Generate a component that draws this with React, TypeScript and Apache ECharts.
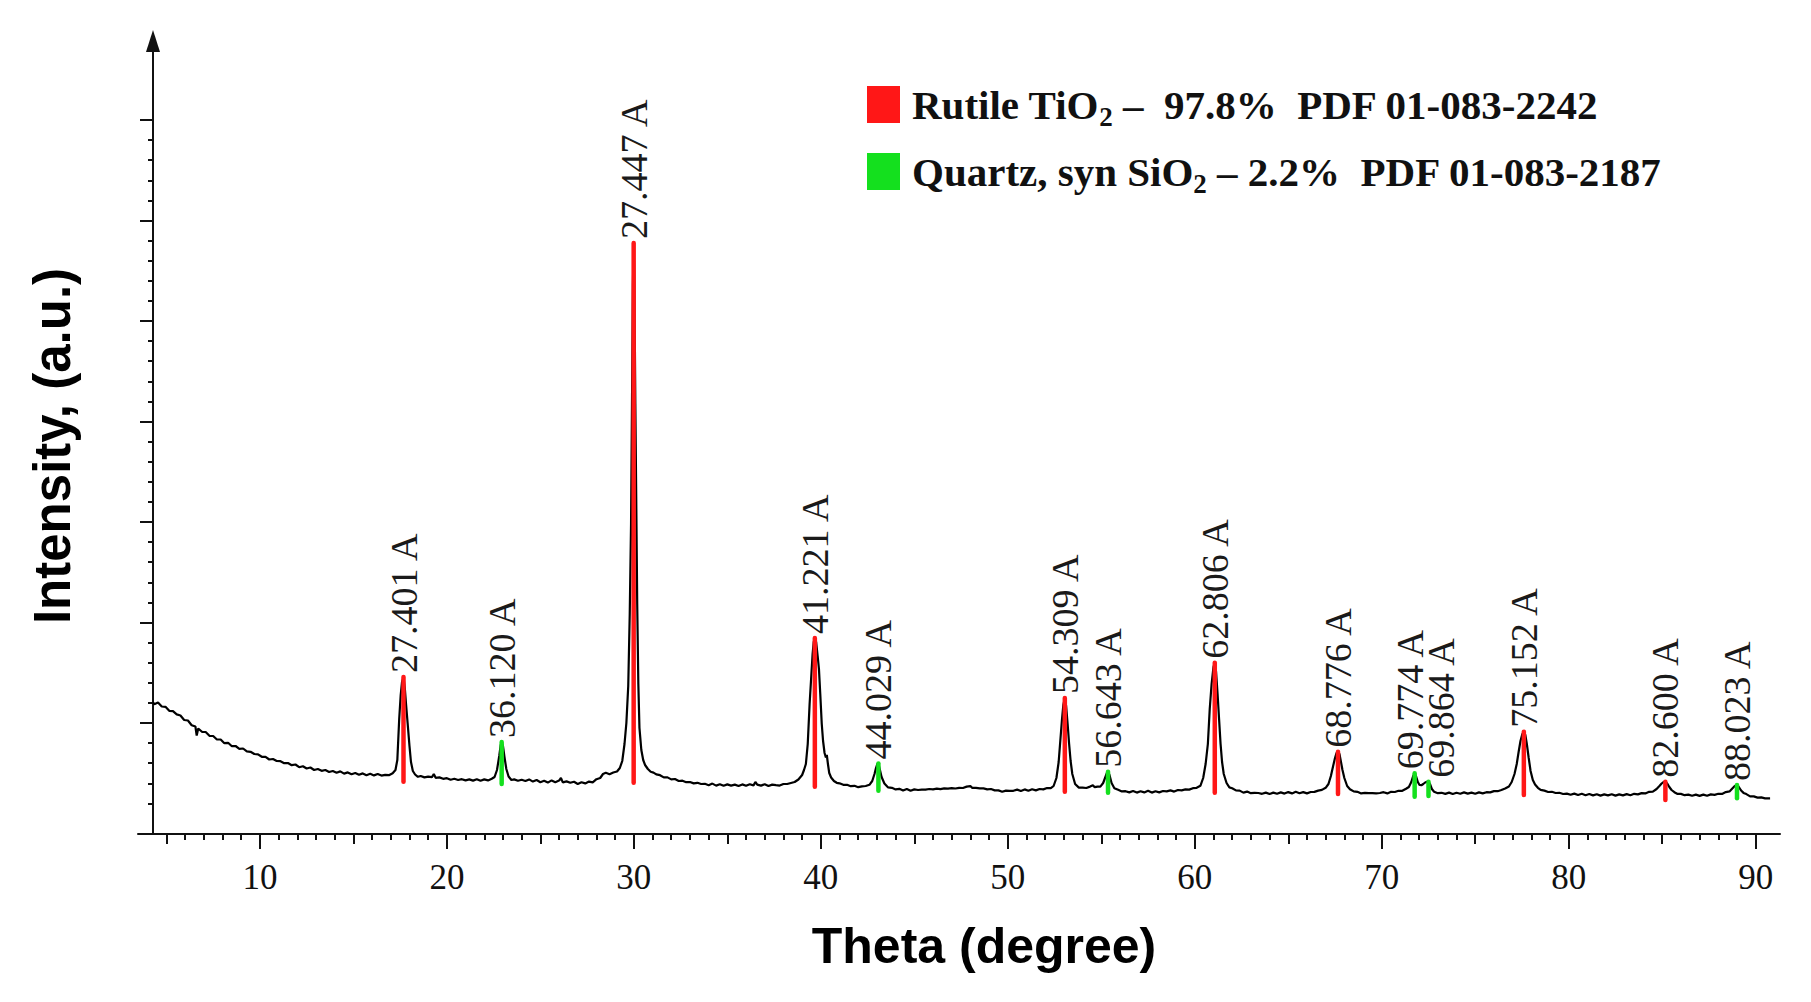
import React, { useEffect, useRef } from "react";
import * as echarts from "echarts";

// ---------- DATA ----------
const thetaPts = [
  4.28, 4.35, 4.55, 4.75, 4.95, 5.15, 5.35, 5.55, 5.75, 5.95, 6.15, 6.35, 6.55, 6.62, 6.7, 6.9, 7.1, 7.3, 7.5, 7.7,
  7.9, 8.1, 8.3, 8.5, 8.7, 8.9, 9.1, 9.3, 9.5, 9.7, 9.9, 10.1, 10.3, 10.5, 10.7, 10.9, 11.1, 11.3, 11.5, 11.7,
  11.9, 12.1, 12.3, 12.5, 12.7, 12.9, 13.1, 13.3, 13.5, 13.7, 13.9, 14.1, 14.3, 14.5, 14.7, 14.9, 15.1, 15.3, 15.5, 15.7,
  15.9, 16.1, 16.3, 16.5, 16.7, 16.9, 17.1, 17.25, 17.35, 17.45, 17.53, 17.6, 17.68, 17.75, 17.82, 17.9, 18.0, 18.08, 18.18, 18.3,
  18.45, 18.6, 18.8, 19.0, 19.2, 19.3, 19.4, 19.6, 19.8, 20.0, 20.2, 20.4, 20.6, 20.8, 21.0, 21.2, 21.4, 21.6, 21.8, 22.0,
  22.2, 22.4, 22.55, 22.68, 22.8, 22.88, 22.93, 23.0, 23.08, 23.18, 23.3, 23.45, 23.6, 23.8, 24.0, 24.2, 24.4, 24.6, 24.8, 25.0,
  25.2, 25.4, 25.6, 25.8, 26.0, 26.1, 26.2, 26.4, 26.6, 26.8, 27.0, 27.2, 27.4, 27.6, 27.8, 28.0, 28.2, 28.35, 28.5, 28.7,
  28.9, 29.1, 29.25, 29.38, 29.5, 29.6, 29.7, 29.78, 29.85, 29.9, 29.95, 29.99, 30.03, 30.08, 30.13, 30.18, 30.24, 30.3, 30.4, 30.5,
  30.6, 30.75, 30.9, 31.05, 31.2, 31.4, 31.6, 31.8, 32.0, 32.2, 32.4, 32.6, 32.8, 33.0, 33.2, 33.4, 33.6, 33.8, 34.0, 34.2,
  34.4, 34.6, 34.8, 35.0, 35.2, 35.4, 35.6, 35.8, 36.0, 36.2, 36.4, 36.5, 36.6, 36.8, 37.0, 37.2, 37.4, 37.6, 37.8, 38.0,
  38.2, 38.4, 38.6, 38.8, 39.0, 39.1, 39.2, 39.3, 39.4, 39.48, 39.56, 39.62, 39.68, 39.75, 39.83, 39.9, 39.97, 40.05, 40.12, 40.2,
  40.27, 40.32, 40.38, 40.45, 40.55, 40.7, 40.85, 41.0, 41.2, 41.4, 41.6, 41.8, 42.0, 42.2, 42.4, 42.6, 42.75, 42.87, 42.95, 43.02,
  43.08, 43.15, 43.25, 43.4, 43.6, 43.8, 44.0, 44.2, 44.4, 44.6, 44.8, 45.0, 45.2, 45.4, 45.6, 45.8, 46.0, 46.2, 46.4, 46.6,
  46.8, 47.0, 47.2, 47.4, 47.6, 47.8, 48.0, 48.1, 48.3, 48.5, 48.7, 48.9, 49.1, 49.3, 49.5, 49.7, 49.9, 50.1, 50.3, 50.5,
  50.7, 50.9, 51.1, 51.3, 51.5, 51.7, 51.9, 52.1, 52.3, 52.45, 52.6, 52.72, 52.82, 52.9, 52.97, 53.05, 53.12, 53.2, 53.28, 53.36,
  53.45, 53.6, 53.8, 54.0, 54.2, 54.4, 54.55, 54.65, 54.8, 54.95, 55.1, 55.22, 55.3, 55.36, 55.44, 55.55, 55.7, 55.9, 56.1, 56.3,
  56.5, 56.7, 56.9, 57.1, 57.3, 57.5, 57.7, 57.9, 58.1, 58.3, 58.5, 58.7, 58.9, 59.1, 59.3, 59.5, 59.7, 59.9, 60.1, 60.3,
  60.45, 60.58, 60.7, 60.8, 60.9, 61.0, 61.07, 61.14, 61.22, 61.3, 61.38, 61.46, 61.55, 61.7, 61.85, 62.0, 62.2, 62.4, 62.6, 62.8,
  63.0, 63.2, 63.4, 63.6, 63.8, 64.0, 64.2, 64.4, 64.6, 64.8, 65.0, 65.2, 65.4, 65.6, 65.8, 66.0, 66.2, 66.4, 66.6, 66.8,
  67.0, 67.15, 67.28, 67.4, 67.5, 67.58, 67.66, 67.74, 67.82, 67.9, 68.0, 68.15, 68.3, 68.5, 68.7, 68.9, 69.1, 69.3, 69.5, 69.7,
  69.9, 70.1, 70.3, 70.5, 70.7, 70.9, 71.1, 71.3, 71.45, 71.58, 71.68, 71.76, 71.84, 71.93, 72.02, 72.12, 72.22, 72.32, 72.42, 72.5,
  72.58, 72.68, 72.8, 73.0, 73.2, 73.4, 73.6, 73.8, 74.0, 74.2, 74.4, 74.6, 74.8, 75.0, 75.2, 75.4, 75.6, 75.8, 76.0, 76.2,
  76.4, 76.6, 76.8, 76.95, 77.1, 77.22, 77.32, 77.42, 77.52, 77.6, 77.68, 77.76, 77.86, 77.96, 78.08, 78.2, 78.35, 78.5, 78.7, 78.9,
  79.1, 79.3, 79.5, 79.7, 79.9, 80.1, 80.3, 80.5, 80.7, 80.9, 81.1, 81.3, 81.5, 81.7, 81.9, 82.1, 82.3, 82.5, 82.7, 82.9,
  83.1, 83.3, 83.5, 83.7, 83.9, 84.1, 84.3, 84.5, 84.7, 84.85, 84.97, 85.07, 85.17, 85.27, 85.38, 85.5, 85.65, 85.8, 86.0, 86.2,
  86.4, 86.6, 86.8, 87.0, 87.2, 87.4, 87.6, 87.8, 88.0, 88.2, 88.4, 88.6, 88.75, 88.88, 89.0, 89.1, 89.22, 89.35, 89.5, 89.7,
  89.9, 90.1, 90.3, 90.5, 90.77,
];
const intensityPts = [
  1320, 1298, 1315, 1275, 1272, 1232, 1228, 1196, 1185, 1140, 1135, 1088, 1075, 985, 1055, 1022, 1020, 982, 980, 945,
  945, 908, 912, 878, 880, 852, 855, 826, 822, 800, 796, 772, 772, 745, 750, 730, 728, 708, 710, 688,
  695, 668, 678, 655, 665, 640, 650, 632, 640, 620, 630, 612, 626, 604, 616, 598, 610, 592, 606, 588,
  602, 586, 600, 584, 592, 588, 608, 640, 740, 1150, 1390, 1520, 1570, 1460, 1290, 1110, 880, 720, 630, 595,
  572, 580, 566, 574, 568, 600, 562, 566, 552, 558, 542, 552, 540, 548, 536, 546, 534, 548, 532, 546,
  536, 552, 570, 640, 780, 890, 920, 880, 770, 650, 575, 540, 546, 532, 542, 530, 546, 524, 540, 518,
  532, 514, 536, 518, 534, 560, 516, 526, 512, 522, 500, 518, 506, 524, 516, 548, 560, 600, 612, 598,
  615, 625, 660, 730, 900, 1110, 1480, 2200, 3100, 4300, 5500, 5910, 5500, 4300, 3300, 2300, 1500, 1060, 840, 740,
  690, 650, 622, 614, 596, 588, 566, 566, 546, 550, 530, 533, 518, 520, 506, 512, 500, 502, 488, 504,
  484, 498, 482, 496, 484, 494, 480, 496, 482, 498, 486, 520, 494, 484, 498, 480, 494, 488, 484, 500,
  500, 510, 520, 545, 590, 640, 700, 900, 1300, 1550, 1800, 1920, 1960, 1920, 1780, 1650, 1400, 1100, 930, 810,
  765, 790, 700, 610, 565, 530, 512, 507, 492, 492, 478, 482, 468, 476, 480, 492, 530, 600, 660, 700,
  705, 650, 570, 505, 466, 462, 446, 452, 434, 450, 432, 446, 440, 444, 444, 450, 446, 454, 448, 456,
  454, 458, 455, 462, 460, 474, 478, 462, 462, 456, 456, 446, 450, 436, 436, 422, 434, 432, 432, 444,
  430, 446, 432, 448, 436, 450, 446, 460, 458, 480, 560, 720, 960, 1150, 1290, 1360, 1280, 1100, 900, 730,
  600, 500, 464, 464, 460, 474, 488, 468, 474, 474, 510, 570, 610, 623, 590, 510, 458, 442, 426, 428,
  416, 430, 414, 428, 416, 432, 414, 428, 416, 430, 426, 436, 424, 440, 436, 446, 444, 458, 462, 482,
  560, 700, 900, 1250, 1500, 1670, 1713, 1620, 1400, 1150, 900, 720, 600, 510, 466, 458, 436, 434, 414, 424,
  408, 412, 410, 402, 414, 400, 414, 402, 416, 404, 419, 406, 422, 408, 419, 406, 420, 421, 434, 441,
  462, 500, 580, 680, 760, 810, 823, 800, 720, 640, 560, 480, 448, 426, 422, 406, 411, 408, 408, 406,
  410, 418, 406, 422, 420, 432, 432, 452, 470, 520, 580, 607, 575, 520, 490, 488, 500, 515, 522, 523,
  500, 450, 423, 408, 412, 401, 414, 400, 412, 402, 416, 404, 414, 402, 416, 406, 418, 416, 429, 428,
  440, 455, 475, 520, 600, 700, 820, 930, 1000, 1023, 990, 900, 760, 630, 540, 495, 462, 441, 434, 420,
  422, 410, 412, 400, 404, 392, 404, 390, 402, 388, 400, 386, 398, 384, 396, 386, 398, 384, 396, 386,
  399, 388, 402, 396, 409, 406, 422, 424, 450, 480, 505, 520, 523, 505, 470, 440, 418, 402, 401, 388,
  394, 382, 394, 381, 394, 382, 396, 391, 402, 401, 419, 426, 455, 480, 490, 470, 435, 411, 399, 376,
  376, 364, 366, 356, 357,
];

// Phase reference sticks (Rutile TiO2, red)
const rutileTheta = [17.68, 29.99, 39.68, 53.05, 61.07, 67.66, 77.6, 85.17];
const rutileTop = [1570, 5910, 1960, 1360, 1713, 823, 1023, 523];
const rutileBase = [523, 513, 473, 423, 413, 400, 390, 340];
const rutileLabels = ["27.401 A", "27.447 A", "41.221 A", "54.309 A", "62.806 A", "68.776 A", "75.152 A", "82.600 A"];

// Phase reference sticks (Quartz SiO2, green)
const quartzTheta = [22.93, 43.08, 55.36, 71.76, 72.5, 89.0];
const quartzTop = [920, 705, 623, 607, 523, 490];
const quartzBase = [500, 433, 413, 373, 380, 357];
const quartzLabels = ["36.120 A", "44.029 A", "56.643 A", "69.774 A", "69.864 A", "88.023 A"];

// Axis ticks
const xMajorTicks = [10, 20, 30, 40, 50, 60, 70, 80, 90];
const xMidTicks = [5, 15, 25, 35, 45, 55, 65, 75, 85];
const yMajorTicks = [1110, 2115, 3120, 4125, 5130, 6135, 7140];
const yLowMinorTicks = [306, 507, 708, 909];

const RUTILE = "Rutile TiO2";
const QUARTZ = "Quartz, syn SiO2";

// ---------- STYLE ----------
const RED = "#ff1717";
const GREEN = "#14e01e";
const INK = "#111111";
const SERIF = '"Liberation Serif", "Times New Roman", serif';
const SANS = '"Liberation Sans", Arial, Helvetica, sans-serif';
const LABEL_NUDGE: Record<string, number> = { "69.774 A": -5, "69.864 A": 13 };

const X_MIN = 3.48;
const X_MAX = 91.3;
const Y_MIN = 0;
const Y_MAX = 7930;

function buildMinorX(): number[] {
  const out: number[] = [];
  for (let v = 5; v <= 90; v++) if (v % 5 !== 0) out.push(v);
  return out;
}
function buildMinorY(): number[] {
  const out: number[] = [...yLowMinorTicks];
  for (let i = 0; i < yMajorTicks.length - 1; i++) {
    const a = yMajorTicks[i];
    const b = yMajorTicks[i + 1];
    for (let k = 1; k < 5; k++) out.push(a + ((b - a) * k) / 5);
  }
  return out;
}

function markerSeries(name: string, color: string, theta: number[], top: number[], base: number[], labels: string[]) {
  return {
    name,
    type: "custom",
    xAxisIndex: 0,
    yAxisIndex: 0,
    itemStyle: { color },
    silent: true,
    z: 5,
    data: theta.map((t, i) => [t, top[i], base[i]]),
    renderItem: (params: any, api: any) => {
      const x = api.value(0);
      const p1 = api.coord([x, api.value(1)]);
      const p2 = api.coord([x, api.value(2)]);
      const label = labels[params.dataIndex];
      const nudge = LABEL_NUDGE[label] || 0;
      return {
        type: "group",
        children: [
          {
            type: "line",
            shape: { x1: p1[0], y1: p1[1], x2: p2[0], y2: p2[1] },
            style: { stroke: color, lineWidth: 4.5, lineCap: "round" },
          },
          {
            type: "text",
            x: p1[0] + nudge,
            y: p1[1] - 4,
            rotation: Math.PI / 2,
            style: {
              text: label,
              fill: "#1a1a1a",
              font: `38px ${SERIF}`,
              align: "left",
              verticalAlign: "middle",
            },
          },
        ],
      };
    },
  };
}

const tickAxisBase = {
  type: "value",
  min: X_MIN,
  max: X_MAX,
  position: "bottom",
  gridIndex: 0,
  splitLine: { show: false },
  axisLabel: { show: false },
  axisLine: { show: false, onZero: false },
};

const yTickBase = {
  type: "value",
  min: Y_MIN,
  max: Y_MAX,
  position: "left",
  offset: -15,
  gridIndex: 0,
  splitLine: { show: false },
  axisLabel: { show: false },
};

export default function App() {
  const ref = useRef<HTMLDivElement>(null);

  useEffect(() => {
    if (!ref.current) return;
    const chart = echarts.init(ref.current, undefined, { renderer: "svg" });

    const option: any = {
      animation: false,
      backgroundColor: "#ffffff",
      grid: { left: 138, right: 31, top: 41, bottom: 168, containLabel: false, outerBoundsMode: "none" },
      legend: {
        data: [RUTILE, QUARTZ],
        orient: "vertical",
        left: 867,
        top: 79,
        padding: 0,
        itemWidth: 33,
        itemHeight: 37,
        itemGap: 16,
        icon: "rect",
        selectedMode: false,
        formatter: (name: string) =>
          name === RUTILE
            ? "{b|Rutile TiO}{s|2}{a| \u2013\u00a0\u00a097.8%\u00a0\u00a0PDF 01-083-2242}"
            : "{b|Quartz, syn SiO}{s|2}{a| \u2013 2.2%\u00a0\u00a0PDF 01-083-2187}",
        textStyle: {
          color: INK,
          rich: {
            a: { fontFamily: SERIF, fontWeight: "bold", fontSize: 41, lineHeight: 56, color: INK },
            b: { fontFamily: SERIF, fontWeight: "bold", fontSize: 41, lineHeight: 56, color: INK, padding: [0, 0, 0, 7] },
            s: { fontFamily: SERIF, fontWeight: "bold", fontSize: 27, lineHeight: 30, padding: [24, 0, 0, 0], color: INK },
          },
        },
      },
      xAxis: [
        {
          type: "value",
          min: X_MIN,
          max: X_MAX,
          position: "bottom",
          splitLine: { show: false },
          axisLine: { show: true, onZero: false, lineStyle: { color: INK, width: 2 } },
          axisTick: { show: true, customValues: xMajorTicks, length: 15, lineStyle: { color: INK, width: 2 } },
          axisLabel: {
            customValues: xMajorTicks,
            fontFamily: SERIF,
            fontSize: 35,
            color: INK,
            margin: 26,
          },
        },
        { ...tickAxisBase, axisTick: { show: true, customValues: xMidTicks, length: 10, lineStyle: { color: INK, width: 2 } } },
        { ...tickAxisBase, axisTick: { show: true, customValues: buildMinorX(), length: 6, lineStyle: { color: INK, width: 2 } } },
      ],
      yAxis: [
        {
          ...yTickBase,
          axisLine: {
            show: true,
            onZero: false,
            symbol: ["none", "triangle"],
            symbolSize: [14, 22],
            lineStyle: { color: INK, width: 2 },
          },
          axisTick: { show: true, customValues: yMajorTicks, length: 13, lineStyle: { color: INK, width: 2 } },
        },
        {
          ...yTickBase,
          axisLine: { show: false, onZero: false },
          axisTick: { show: true, customValues: buildMinorY(), length: 5, lineStyle: { color: INK, width: 2 } },
        },
      ],
      graphic: [
        {
          type: "text",
          x: 984,
          y: 946,
          silent: true,
          style: {
            text: "Theta (degree)",
            font: `bold 50px ${SANS}`,
            fill: "#000",
            align: "center",
            verticalAlign: "middle",
          },
        },
        {
          type: "text",
          x: 52,
          y: 446,
          rotation: Math.PI / 2,
          silent: true,
          style: {
            text: "Intensity, (a.u.)",
            font: `bold 51px ${SANS}`,
            fill: "#000",
            align: "center",
            verticalAlign: "middle",
          },
        },
      ],
      series: [
        {
          name: "XRD pattern",
          type: "line",
          xAxisIndex: 0,
          yAxisIndex: 0,
          showSymbol: false,
          symbol: "none",
          silent: true,
          z: 3,
          lineStyle: { color: "#000", width: 2.2 },
          data: thetaPts.map((t, i) => [t, intensityPts[i]]),
        },
        markerSeries(RUTILE, RED, rutileTheta, rutileTop, rutileBase, rutileLabels),
        markerSeries(QUARTZ, GREEN, quartzTheta, quartzTop, quartzBase, quartzLabels),
      ],
    };

    chart.setOption(option);
    return () => chart.dispose();
  }, []);

  return (
    <div
      ref={ref}
      style={{ position: "fixed", left: 0, top: 0, width: 1811, height: 1002, background: "#fff" }}
    />
  );
}
